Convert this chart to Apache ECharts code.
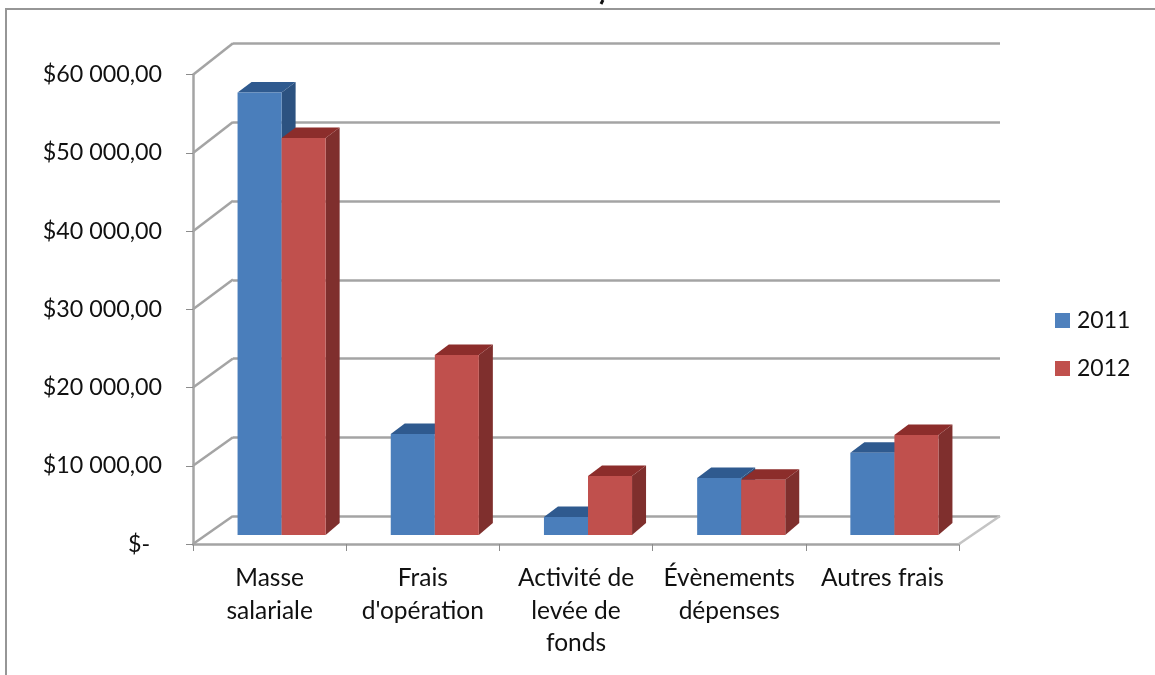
<!DOCTYPE html>
<html>
<head>
<meta charset="utf-8">
<style>html,body{margin:0;padding:0;background:#fff}#c{width:1155px;height:675px}</style>
<script src="https://cdn.jsdelivr.net/npm/echarts@6/dist/echarts.min.js"></script>
</head>
<body>
<div id="c"></div>
<script>
const categories = ["Masse\nsalariale", "Frais\nd'opération", "Activité de\nlevée de\nfonds", "Évènements\ndépenses", "Autres frais"];
const years = ["2011", "2012"];
const values2011 = [56560, 12900, 2300, 7300, 10500];
const values2012 = [50770, 23000, 7550, 7050, 12800];
const yTicks = [0, 10000, 20000, 30000, 40000, 50000, 60000];

const FONT = 'Lato';
const GREY = '#a4a4a4';
const chart = echarts.init(document.getElementById('c'), null, {renderer: 'canvas'});

// depth of the 3D box, in pixels
function wallDy(v) { return -28 - 3.5 * v / 60000; }

function renderWalls(params, api) {
  const v = api.value(1);
  const p = api.coord([0, v]);
  const halfCat = api.size([1, 0])[0] / 2;
  const x0 = p[0] - halfCat;
  const lines = [];
  lines.push({type: 'line', shape: {x1: x0, y1: p[1], x2: x0 + 40, y2: p[1] + wallDy(v)},
    style: {stroke: GREY, lineWidth: 2.5}});
  if (v === 0) {
    const q = api.coord([categories.length - 1, 0]);
    const x1 = q[0] + halfCat;
    lines.push({type: 'line', shape: {x1: x1, y1: q[1], x2: x1 + 41, y2: q[1] - 28},
      style: {stroke: '#c4c4c4', lineWidth: 2.5}});
  }
  return {type: 'group', children: lines};
}

function makeBarRenderer(order, front, top, side) {
  return function (params, api) {
    const i = api.value(0), v = api.value(1);
    const c = api.coord([i, v]);
    const base = api.coord([i, 0]);
    const catW = api.size([1, 0])[0];
    const w = catW * 0.2875;
    const x = c[0] + 12 + (order - 1) * w;
    const yT = c[1] - 9, yB = base[1] - 9;
    const dx = 14, dyT = -10.5, dyB = -12;
    return {type: 'group', children: [
      {type: 'polygon', shape: {points: [[x + w, yT], [x + w + dx, yT + dyT], [x + w + dx, yB + dyB], [x + w, yB]]},
        style: {fill: side}},
      {type: 'polygon', shape: {points: [[x, yT], [x + dx, yT + dyT], [x + w + dx, yT + dyT], [x + w, yT]]},
        style: {fill: top}},
      {type: 'rect', shape: {x: x, y: yT, width: w, height: yB - yT}, style: {fill: front}}
    ]};
  };
}

chart.setOption({
  animation: false,
  backgroundColor: '#fff',
  textStyle: {fontFamily: FONT},
  legend: {
    data: years, orient: 'vertical', left: 1050, top: 304, itemWidth: 15, itemHeight: 15, itemGap: 25,
    icon: 'rect', textStyle: {fontFamily: FONT, fontSize: 23, color: '#111', padding: [0, 0, 0, 2]}
  },
  grid: [
    {left: 193, top: 74.7, width: 766, height: 469.3},
    {left: 233, top: 43, width: 767, height: 473.5, z: 0}
  ],
  xAxis: [
    {type: 'category', gridIndex: 0, data: categories, boundaryGap: true,
      axisLine: {lineStyle: {color: GREY, width: 2.5}},
      axisTick: {show: true, length: 7, alignWithLabel: false, lineStyle: {color: '#8c8c8c', width: 1}},
      axisLabel: {interval: 0, fontFamily: FONT, fontSize: 24.5, color: '#111', lineHeight: 32.5, margin: 18}},
    {type: 'value', gridIndex: 1, min: 0, max: 1, show: false, splitLine: {show: false}}
  ],
  yAxis: [
    {type: 'value', gridIndex: 0, min: 0, max: 60000, interval: 10000,
      axisLine: {show: true, lineStyle: {color: GREY, width: 2.5}},
      axisTick: {show: true, length: 7, lineStyle: {color: '#8c8c8c', width: 1}},
      splitLine: {show: false},
      axisLabel: {fontFamily: FONT, fontSize: 23.3, color: '#111', margin: 31,
        formatter: function (v) {
          if (v === 0) return '$-\u00a0\u00a0';
          return '$' + (v / 1000) + ' 000,00';
        }}},
    {type: 'value', gridIndex: 1, min: 0, max: 60000, interval: 10000,
      axisLine: {show: false}, axisTick: {show: false}, axisLabel: {show: false},
      splitLine: {show: true, lineStyle: {color: GREY, width: 2.5}}}
  ],
  graphic: [
    {type: 'polyline', z: 0, silent: true, shape: {points: [[6, 675], [6, 9], [1155, 9]]},
      style: {stroke: '#969696', lineWidth: 2, fill: 'none'}},
    {type: 'line', z: 0, silent: true, shape: {x1: 603, y1: 0, x2: 601, y2: 4},
      style: {stroke: '#111', lineWidth: 3}}
  ],
  series: [
    {type: 'custom', xAxisIndex: 0, yAxisIndex: 0, z: 1, silent: true, clip: false,
      data: yTicks.map(function (v) { return [0, v]; }),
      renderItem: renderWalls, encode: {x: 0, y: 1}},
    {type: 'custom', name: years[0], xAxisIndex: 0, yAxisIndex: 0, z: 3, clip: false,
      itemStyle: {color: '#4f81bd'},
      data: values2011.map(function (v, i) { return [i, v]; }),
      renderItem: makeBarRenderer(0, '#4a7ebb', '#2f5a8f', '#2c5280'), encode: {x: 0, y: 1}},
    {type: 'custom', name: years[1], xAxisIndex: 0, yAxisIndex: 0, z: 4, clip: false,
      itemStyle: {color: '#c0504d'},
      data: values2012.map(function (v, i) { return [i, v]; }),
      renderItem: makeBarRenderer(1, '#c0504d', '#8c2d2b', '#7f2f2d'), encode: {x: 0, y: 1}}
  ]
});
</script>
</body>
</html>
